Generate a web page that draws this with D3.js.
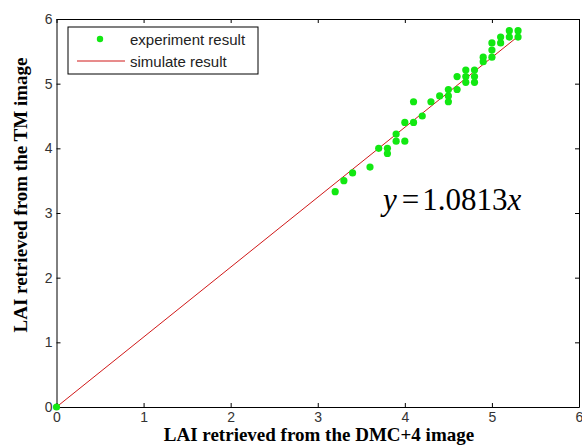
<!DOCTYPE html>
<html>
<head>
<meta charset="utf-8">
<script src="https://cdn.jsdelivr.net/npm/d3@7"></script>
<style>
  body { margin: 0; background: #fff; }
  svg { display: block; }
</style>
</head>
<body>
<div id="chart"></div>
<script>
// values
const lddX = [0, 3.2, 3.3, 3.4, 3.6, 3.7, 3.8, 3.8, 3.9, 3.9, 4.0, 4.0, 4.1, 4.1, 4.2, 4.3, 4.4, 4.5, 4.5, 4.5,
    4.6, 4.6, 4.7, 4.7, 4.7, 4.8, 4.8, 4.8, 4.9, 4.9, 5.0, 5.0, 5.0, 5.1, 5.1, 5.2, 5.2, 5.3, 5.3];
const tmY = [0, 3.33, 3.5, 3.62, 3.71, 4.0, 4.0, 3.92, 4.22, 4.11, 4.11, 4.4, 4.4, 4.72, 4.5, 4.72, 4.81, 4.91, 4.81, 4.72,
    5.11, 4.91, 5.21, 5.11, 5.02, 5.21, 5.11, 5.02, 5.41, 5.34, 5.63, 5.52, 5.41, 5.72, 5.63, 5.82, 5.72, 5.82, 5.72];
const slope = 1.0813;
const fitX = [0, 5.3];
const xTicks = [0, 1, 2, 3, 4, 5, 6];
const yTicks = [0, 1, 2, 3, 4, 5, 6];
const legendLabels = ["experiment result", "simulate result"];

const W = 582, H = 446;
const margin = { top: 19, right: 3, bottom: 39, left: 56.5 };
const width = W - margin.left - margin.right;
const height = H - margin.top - margin.bottom;

const svg = d3.select("#chart").append("svg")
    .attr("width", W)
    .attr("height", H);

const g = svg.append("g")
    .attr("transform", "translate(" + margin.left + "," + margin.top + ")");

const x = d3.scaleLinear().domain([0, 6]).range([0, width]);
const y = d3.scaleLinear().domain([0, 6]).range([height, 0]);

// axes, ticks pointing inward like matlab
function styleAxis(sel) {
    sel.select(".domain").attr("stroke", "#000");
    sel.selectAll(".tick line").attr("stroke", "#000");
    sel.selectAll(".tick text")
        .attr("fill", "#333")
        .style("font-family", "'Liberation Sans', Arial, sans-serif")
        .style("font-size", "14px");
}

g.append("g")
    .attr("transform", "translate(0," + height + ")")
    .call(d3.axisBottom(x).tickValues(xTicks).tickSizeInner(-4).tickSizeOuter(0).tickPadding(5).tickFormat(d3.format("d")))
    .call(styleAxis);

g.append("g")
    .call(d3.axisLeft(y).tickValues(yTicks).tickSizeInner(-4).tickSizeOuter(0).tickPadding(4).tickFormat(d3.format("d")))
    .call(styleAxis);

g.append("g")
    .call(d3.axisTop(x).tickValues(xTicks).tickSizeInner(-4).tickSizeOuter(0).tickFormat(""))
    .call(styleAxis);

g.append("g")
    .attr("transform", "translate(" + width + ",0)")
    .call(d3.axisRight(y).tickValues(yTicks).tickSizeInner(-4).tickSizeOuter(0).tickFormat(""))
    .call(styleAxis);

g.selectAll(".domain").attr("stroke-width", 1);

// fitted line
const line = d3.line()
    .x(function(d) { return x(d); })
    .y(function(d) { return y(d * slope); });

g.append("path")
    .datum(fitX)
    .attr("d", line)
    .attr("fill", "none")
    .attr("stroke", "#d01818")
    .attr("stroke-width", 1);

// points
g.selectAll("circle.pt")
    .data(lddX)
    .enter()
    .append("circle")
    .attr("class", "pt")
    .attr("cx", function(d) { return x(d); })
    .attr("cy", function(d, i) { return y(tmY[i]); })
    .attr("r", 3.6)
    .attr("fill", "#12e812");

// equation
const eq = g.append("text")
    .attr("x", x(3.75))
    .attr("y", y(3.05))
    .style("font-family", "'Liberation Serif', 'Times New Roman', serif")
    .style("font-size", "31px")
    .attr("fill", "#000");
eq.append("tspan").style("font-style", "italic").text("y");
eq.append("tspan").attr("dx", 5).text("=");
eq.append("tspan").attr("dx", 3).text("1.0813");
eq.append("tspan").style("font-style", "italic").text("x");

// legend
const leg = svg.append("g").attr("transform", "translate(68,27)");
leg.append("rect")
    .attr("width", 190)
    .attr("height", 47)
    .attr("fill", "#fff")
    .attr("stroke", "#000")
    .attr("stroke-width", 1);
leg.append("circle")
    .attr("cx", 32)
    .attr("cy", 12)
    .attr("r", 3.2)
    .attr("fill", "#12e812");
leg.append("line")
    .attr("x1", 9).attr("x2", 57)
    .attr("y1", 34).attr("y2", 34)
    .attr("stroke", "#d01818");
leg.selectAll("text")
    .data(legendLabels)
    .enter()
    .append("text")
    .attr("x", 62)
    .attr("y", function(d, i) { return 18 + i * 22; })
    .style("font-family", "'Liberation Sans', Arial, sans-serif")
    .style("font-size", "15px")
    .attr("fill", "#222")
    .text(function(d) { return d; });

// axis titles
svg.append("text")
    .attr("x", 319)
    .attr("y", 441)
    .attr("text-anchor", "middle")
    .style("font-family", "'Liberation Serif', 'Times New Roman', serif")
    .style("font-weight", "bold")
    .style("font-size", "19px")
    .text("LAI retrieved from the DMC+4 image");

svg.append("text")
    .attr("transform", "translate(27,195) rotate(-90)")
    .attr("text-anchor", "middle")
    .style("font-family", "'Liberation Serif', 'Times New Roman', serif")
    .style("font-weight", "bold")
    .style("font-size", "19px")
    .text("LAI retrieved from the TM image");
</script>
</body>
</html>
